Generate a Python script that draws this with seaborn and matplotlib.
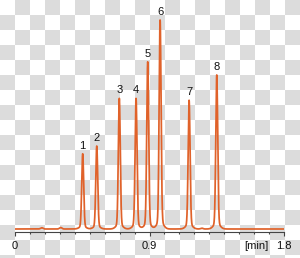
import numpy as np
import pandas as pd
import matplotlib
matplotlib.use("Agg")
import matplotlib.pyplot as plt
import seaborn as sns

# ---- data ----
peak_labels = ["1", "2", "3", "4", "5", "6", "7", "8"]
peak_times = [0.453, 0.547, 0.698, 0.810, 0.888, 0.971, 1.165, 1.350]   # min
peak_heights = [36.0, 39.7, 62.5, 62.5, 80.0, 100.0, 61.6, 73.7]      # relative signal
minor_times = [0.179, 0.306, 1.25]
minor_heights = [0.6, 0.7, 0.4]
xtick_values = [0.0, 0.9, 1.8]
xtick_labels = ["0", "0.9", "1.8"]
x_unit_label = "[min]"
x_unit_pos = 1.613

sns.set_theme(style="white")
plt.rcParams["font.family"] = ["Liberation Sans", "DejaVu Sans"]

W, H = 300, 258
fig = plt.figure(figsize=(W / 100, H / 100), dpi=100)

# checkerboard backdrop (transparent-image look)
bg = fig.add_axes([0, 0, 1, 1])
tile = 15
nr, nc = int(np.ceil(H / tile)), int(np.ceil(W / tile))
board = (np.add.outer(np.arange(nr), np.arange(nc)) % 2).astype(float)
bg.imshow(board, cmap=matplotlib.colors.ListedColormap(["#ffffff", "#dcdcdc"]),
          extent=[0, nc * tile, nr * tile, 0], interpolation="nearest", aspect="auto")
bg.set_xlim(0, W)
bg.set_ylim(H, 0)
bg.axis("off")

# chromatogram trace built from the peak table
t = np.linspace(0, 1.8, 8000)
signal = np.zeros_like(t)
for rt, h in zip(peak_times, peak_heights):
    signal += h * (0.96 * np.exp(-0.5 * ((t - rt) / 0.0064) ** 2)
                   + 0.04 * np.exp(-0.5 * ((t - rt) / 0.02) ** 2))
for rt, h in zip(minor_times, minor_heights):
    signal += h * np.exp(-0.5 * ((t - rt) / 0.008) ** 2)
df = pd.DataFrame({"time": t, "signal": signal})

axis_y = 232.3
ax = fig.add_axes([15 / W, (H - axis_y) / H, 269 / W, axis_y / H])
ax.patch.set_alpha(0)
sns.lineplot(data=df, x="time", y="signal", ax=ax, color="#e0622a", lw=1.25)

ax.set_xlim(0, 1.8)
ax.set_ylim(-1.58, -1.58 + axis_y / 2.09)
ax.set_xticks(xtick_values)
ax.set_xticklabels(xtick_labels)
ax.set_xticks(np.round(np.arange(0, 1.81, 0.1), 2), minor=True)
ax.set_yticks([])
ax.set_xlabel("")
ax.set_ylabel("")
for s in ["top", "left", "right"]:
    ax.spines[s].set_visible(False)
ax.spines["bottom"].set_color("#444444")
ax.spines["bottom"].set_linewidth(0.8)
ax.tick_params(axis="x", which="major", bottom=True, direction="out", length=2.6,
               width=0.8, color="#444444", pad=3.4, labelsize=8, labelcolor="#111111")
ax.tick_params(axis="x", which="minor", bottom=True, direction="out", length=1.5,
               width=0.8, color="#444444")

for lab, rt, h in zip(peak_labels, peak_times, peak_heights):
    ax.annotate(lab, xy=(rt, h), xytext=(0, 3.6), textcoords="offset points",
                ha="center", va="baseline", fontsize=8, color="#111111")

ax.annotate(x_unit_label, xy=(x_unit_pos, 0), xycoords=("data", "axes fraction"),
            xytext=(0, -6.0), textcoords="offset points", ha="center", va="top",
            fontsize=8, color="#111111")

fig.savefig("out.png", dpi=100)
